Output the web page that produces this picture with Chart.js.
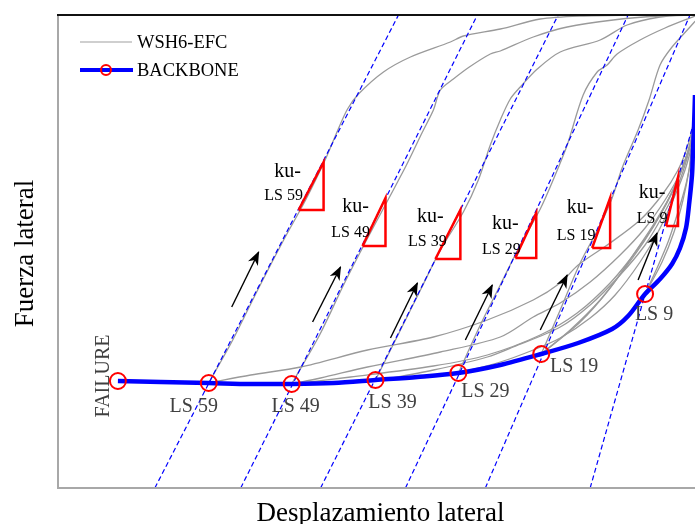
<!DOCTYPE html>
<html><head><meta charset="utf-8">
<script src="https://cdn.jsdelivr.net/npm/chart.js@4.4.1/dist/chart.umd.min.js"></script>
<style>html,body{margin:0;padding:0;background:#fff;}canvas{display:block;}</style>
</head><body>
<canvas id="c" width="695" height="524"></canvas>
<script>
// Schematic chart: arbitrary units (x = lateral displacement, y = lateral force)
const stateLabels = ['FAILURE', 'LS 59', 'LS 49', 'LS 39', 'LS 29', 'LS 19', 'LS 9'];
const stateDisp  = [60, 151, 234, 318, 401, 484, 588];
const stateForce = [107, 105, 104, 108, 115, 134, 194];

const backboneDisp  = [60, 103, 151, 193, 234, 276, 318, 360, 401, 443, 484, 521, 555, 571, 588, 603, 615, 623, 629, 632, 635, 636, 637, 638];
const backboneForce = [107, 106, 105, 104, 104, 105, 108, 111, 115, 123, 134, 145, 159, 172, 194, 209, 224, 240, 260, 283, 313, 338, 361, 393];

// WSH6-EFC response curves (reloading branches from each limit state)
const upLS59 = [[151,105],[175,148],[200,198],[226,248],[248,288],[268,329],[279,355],[290,379],[301,394],[326,416],[353,431],[393,446],[406,452],[443,459],[483,469],[523,472],[583,473]];
const upLS49 = [[234,104],[262,153],[286,203],[308,246],[331,289],[349,323],[365,356],[376,378],[383,398],[396,409],[412,421],[433,434],[443,437],[476,451],[510,461],[556,468],[603,472],[638,473]];
const upLS39 = [[318,108],[343,158],[363,198],[383,238],[406,276],[421,308],[433,343],[443,368],[453,389],[463,401],[480,419],[503,436],[543,448],[570,463],[603,471],[638,474]];
const upLS29 = [[401,115],[423,163],[443,203],[463,243],[483,279],[498,313],[510,343],[526,393],[540,416],[550,423],[560,434],[583,448],[608,460],[638,472]];
const upLS19 = [[484,134],[503,178],[523,225],[543,263],[555,290],[565,320],[581,358],[592,388],[603,423],[615,441],[633,461],[641,470]];
const lowLS59 = [[151,105],[193,113],[243,121],[310,138],[376,151],[430,168],[476,188],[503,205],[521,223],[553,245],[583,268],[605,293],[621,318],[631,343],[637,368],[640,388]];
const lowLS49 = [[234,104],[263,110],[310,121],[383,136],[443,151],[476,171],[503,185],[533,206],[563,233],[588,260],[608,288],[623,315],[633,343],[640,378]];
const lowLS49b = [[234,104],[293,111],[376,122],[430,133],[483,153],[520,175],[553,205],[580,238],[600,268],[617,300],[630,333],[640,368]];
const lowLS39 = [[318,107],[376,118],[430,131],[456,141],[503,161],[533,183],[563,213],[588,243],[606,273],[621,303],[631,333],[640,370]];
const lowLS29 = [[401,115],[443,126],[476,138],[503,150],[533,170],[558,193],[583,226],[601,256],[616,288],[628,318],[636,348],[640,373]];
const lowLS19a = [[484,134],[513,158],[543,188],[568,220],[588,248],[605,276],[620,306],[631,336],[640,373]];
const lowLS19b = [[484,134],[523,166],[553,200],[578,236],[598,266],[615,296],[628,328],[640,366]];
const lowLS9a = [[588,194],[600,220],[611,246],[620,273],[628,300],[634,328],[640,363]];
const lowLS9b = [[588,194],[605,226],[617,256],[626,288],[632,318],[635,348],[638,383]];

// Unloading stiffness lines ku- (dashed)
const kuLS59 = [[97,0],[341,473]];
const kuLS49 = [[183,0],[420,473]];
const kuLS39 = [[263,0],[501,473]];
const kuLS29 = [[348,0],[571,473]];
const kuLS19 = [[428,0],[633,473]];
const kuLS9  = [[533,0],[638,370]];

// Stiffness triangles
const triLS59 = [[241,278],[266,278],[266,326]];
const triLS49 = [[305,242],[328,242],[328,290]];
const triLS39 = [[378,229],[403,229],[403,278]];
const triLS29 = [[458,230],[479,230],[479,275]];
const triLS19 = [[535,240],[553,240],[553,290]];
const triLS9  = [[609,262],[621,262],[621,311]];

// Loading-direction arrows (tail, tip)
const arrowLS59 = [[174,181],[201,236]];
const arrowLS49 = [[255,166],[283,221]];
const arrowLS39 = [[333,150],[360,205]];
const arrowLS29 = [[408,148],[435,203]];
const arrowLS19 = [[483,158],[510,213]];
const arrowLS9  = [[581,208],[600,255]];

// Text annotations anchored in data units
const stateLabelAt = [[51,112],[136,76],[238,76],[335,80],[428,91],[517,116],[597,168]];
const kuNames = ['LS 59','LS 49','LS 39','LS 29','LS 19','LS 9'];
const kuTextAt = [[230,311],[298,276],[373,266],[448,259],[523,275],[595,290]];
const kuSubAt  = [[226,288],[293,251],[370,242],[444,234],[519,248],[595,265]];

const SERIF = "'Liberation Serif', 'Times New Roman', serif";
const pts = a => a.map(p => ({x: p[0], y: p[1]}));

const grayCurves = [upLS59, upLS49, upLS39, upLS29, upLS19, lowLS59, lowLS49, lowLS49b, lowLS39, lowLS29, lowLS19a, lowLS19b, lowLS9a, lowLS9b];
const kuLines = [kuLS59, kuLS49, kuLS39, kuLS29, kuLS19, kuLS9];
const triangles = [triLS59, triLS49, triLS39, triLS29, triLS19, triLS9];
const arrows = [arrowLS59, arrowLS49, arrowLS39, arrowLS29, arrowLS19, arrowLS9];

const datasets = [];
datasets.push({
  label: 'states', data: stateDisp.map((d, i) => ({x: d, y: stateForce[i]})),
  showLine: false, pointRadius: 8, pointHoverRadius: 8, pointBorderColor: '#ff0000', pointBorderWidth: 2,
  pointBackgroundColor: 'rgba(0,0,0,0)', order: 0
});
datasets.push({
  label: 'BACKBONE', data: backboneDisp.map((d, i) => ({x: d, y: backboneForce[i]})),
  borderColor: '#0000ff', borderWidth: 4.5, pointRadius: 0, tension: 0.3, order: 1, clip: 0
});
triangles.forEach(t => datasets.push({
  label: 'tri', data: pts(t.concat([t[0]])), borderColor: '#ff0000', borderWidth: 2.5,
  pointRadius: 0, tension: 0, order: 2, borderJoinStyle: 'miter'
}));
arrows.forEach(a => datasets.push({
  label: 'arrow', data: pts(a), borderColor: '#000', borderWidth: 1.4, pointRadius: 0, tension: 0, order: 2
}));
kuLines.forEach(k => datasets.push({
  label: 'ku', data: pts(k), borderColor: '#0000ff', borderWidth: 1.2, borderDash: [5, 3],
  pointRadius: 0, tension: 0, order: 3, clip: 0
}));
grayCurves.forEach(g => datasets.push({
  label: 'WSH6-EFC', data: pts(g), borderColor: '#9a9a9a', borderWidth: 1.3,
  pointRadius: 0, tension: 0.3, order: 4, clip: 0
}));

const overlay = {
  id: 'overlay',
  beforeDraw(chart) {
    const ctx = chart.ctx;
    ctx.save(); ctx.fillStyle = '#fff'; ctx.fillRect(0, 0, chart.width, chart.height); ctx.restore();
  },
  afterDatasetsDraw(chart) {
    const {ctx, chartArea: a, scales: {x, y}} = chart;
    const px = v => x.getPixelForValue(v), py = v => y.getPixelForValue(v);
    ctx.save();
    // arrowheads
    arrows.forEach(ar => {
      const x0 = px(ar[0][0]), y0 = py(ar[0][1]), x1 = px(ar[1][0]), y1 = py(ar[1][1]);
      const ang = Math.atan2(y1 - y0, x1 - x0);
      ctx.save(); ctx.translate(x1, y1); ctx.rotate(ang);
      ctx.beginPath(); ctx.moveTo(1, 0); ctx.lineTo(-13, -5.5); ctx.lineTo(-9, 0); ctx.lineTo(-13, 5.5); ctx.closePath();
      ctx.fillStyle = '#000'; ctx.fill(); ctx.restore();
    });
    // frame
    ctx.lineWidth = 2; ctx.strokeStyle = '#a8a8a8';
    ctx.beginPath(); ctx.moveTo(a.left, a.top); ctx.lineTo(a.left, a.bottom); ctx.lineTo(a.right, a.bottom); ctx.stroke();
    ctx.strokeStyle = '#111'; ctx.beginPath(); ctx.moveTo(a.left - 1, a.top); ctx.lineTo(a.right, a.top); ctx.stroke();
    // limit state labels
    ctx.fillStyle = '#404040';
    ctx.textBaseline = 'alphabetic'; ctx.textAlign = 'center';
    ctx.font = '20px ' + SERIF;
    stateLabels.forEach((t, i) => {
      const p = stateLabelAt[i];
      if (i === 0) {
        ctx.save(); ctx.translate(px(p[0]), py(p[1])); ctx.rotate(-Math.PI / 2); ctx.fillText(t, 0, 0); ctx.restore();
      } else {
        ctx.fillText(t, px(p[0]), py(p[1]));
      }
    });
    // ku- labels
    ctx.fillStyle = '#000';
    kuNames.forEach((n, i) => {
      ctx.font = '20px ' + SERIF;
      ctx.fillText('ku-', px(kuTextAt[i][0]), py(kuTextAt[i][1]));
      ctx.font = '16px ' + SERIF;
      ctx.fillText(n, px(kuSubAt[i][0]), py(kuSubAt[i][1]));
    });
    // legend
    const lx = a.left + 22, ly1 = a.top + 27, ly2 = a.top + 55;
    ctx.strokeStyle = '#a0a0a0'; ctx.lineWidth = 1.2;
    ctx.beginPath(); ctx.moveTo(lx, ly1); ctx.lineTo(lx + 52, ly1); ctx.stroke();
    ctx.strokeStyle = '#0000ff'; ctx.lineWidth = 4;
    ctx.beginPath(); ctx.moveTo(lx, ly2); ctx.lineTo(lx + 53, ly2); ctx.stroke();
    ctx.strokeStyle = '#ff0000'; ctx.lineWidth = 2;
    ctx.beginPath(); ctx.arc(lx + 26, ly2, 5, 0, Math.PI * 2); ctx.stroke();
    ctx.fillStyle = '#000'; ctx.textAlign = 'left'; ctx.font = '18.5px ' + SERIF;
    ctx.fillText('WSH6-EFC', lx + 57, ly1 + 6);
    ctx.fillText('BACKBONE', lx + 57, ly2 + 6);
    // axis titles
    ctx.font = '27px ' + SERIF; ctx.textAlign = 'center';
    ctx.fillText('Desplazamiento lateral', (a.left + a.right) / 2 + 4, a.bottom + 33);
    ctx.save(); ctx.translate(33, (a.top + a.bottom) / 2 + 2); ctx.rotate(-Math.PI / 2);
    ctx.fillText('Fuerza lateral', 0, 0); ctx.restore();
    ctx.restore();
  }
};

new Chart(document.getElementById('c'), {
  type: 'line',
  data: {datasets},
  options: {
    responsive: false, animation: false, devicePixelRatio: 1, events: [],
    layout: {autoPadding: false, padding: {left: 58, top: 15, right: 0, bottom: 36}},
    scales: {
      x: {type: 'linear', min: 0, max: 638, display: false},
      y: {type: 'linear', min: 0, max: 473, display: false}
    },
    plugins: {legend: {display: false}, tooltip: {enabled: false}}
  },
  plugins: [overlay]
});
</script>
</body></html>
